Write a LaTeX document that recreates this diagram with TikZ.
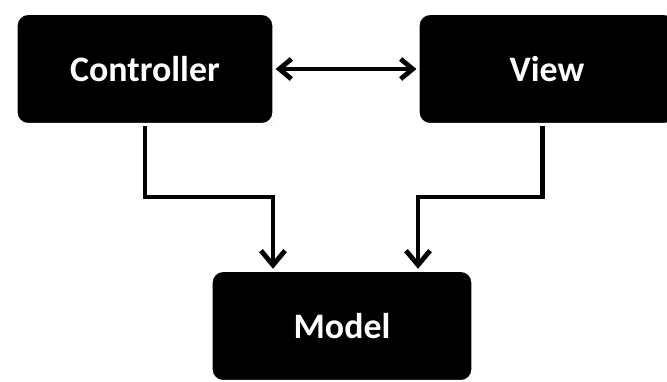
\documentclass[tikz,border=0pt]{standalone}
\usepackage{fontspec}
\setmainfont{Carlito}
\usepackage{xcolor}
\usepackage{tikz}
\usetikzlibrary{arrows.meta,shadows}

\tikzset{
    mvcbox/.style={rectangle,
        rounded corners = 0.3cm,
        draw = white,
        line width = 0.08cm,
        fill = black,
        text = white,
        font = \fontsize{25.5}{30}\selectfont\bfseries,
        minimum width = 6.45cm,
        minimum height = 2.78cm,
        drop shadow = {shadow xshift=0.03cm, shadow yshift=-0.04cm, opacity=0.3}
        },
    mvcline/.style={line width = 0.12cm,
        -{Straight Barb[length=0.36cm, width=0.6cm, line width=0.12cm]}}
}

\begin{document}
\begin{tikzpicture}

    \useasboundingbox (0,0) rectangle (16.675,9.55);

    \node[mvcbox] (ctrl) at (3.625,7.825) {Controller};

    \node[mvcbox] (view) at (13.675,7.825) {View};

    \node[mvcbox, minimum width = 6.55cm] (model) at (8.55,1.4) {Model};

    %controller <-> view
    \draw[mvcline, {Straight Barb[length=0.3cm, width=0.5cm, line width=0.12cm]}-{Straight Barb[length=0.3cm, width=0.5cm, line width=0.12cm]}]
        (ctrl.east) -- (view.west);

    %paths down to the model
    \draw[mvcline] (ctrl.south) |- (6.825,4.625) -- (6.825,1.4 |- model.north);
    \draw[mvcline] ([xshift=-0.11cm]view.south) |- (10.45,4.625) -- (10.45,1.4 |- model.north);

\end{tikzpicture}
\end{document}
